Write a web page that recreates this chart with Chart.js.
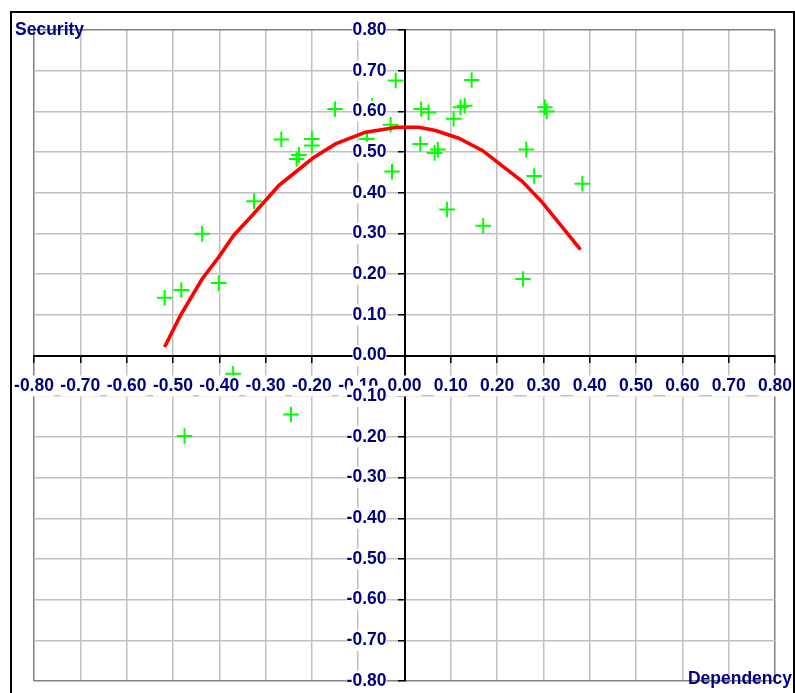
<!DOCTYPE html>
<html>
<head>
<meta charset="utf-8">
<script src="https://cdn.jsdelivr.net/npm/chart.js@4.4.0/dist/chart.umd.min.js"></script>
<style>
  html, body { margin: 0; padding: 0; background: #ffffff; }
  #wrap { position: relative; width: 795px; height: 693px; overflow: hidden; }
  canvas { position: absolute; left: 0; top: 0; }
</style>
</head>
<body>
<div id="wrap"><canvas id="c" width="795" height="693"></canvas></div>
<script>
// ---- data ----
const dependency = [-0.518, -0.482, -0.437, -0.401, -0.370, -0.475, -0.245, -0.325, -0.266, -0.233,
                    -0.228, -0.200, -0.200, -0.150, -0.070, -0.081, -0.030, -0.027, -0.019, 0.036,
                    0.052, 0.034, 0.065, 0.072, 0.106, 0.121, 0.130, 0.145, 0.092, 0.170,
                    0.263, 0.280, 0.303, 0.307, 0.384, 0.256];
const security   = [0.142, 0.161, 0.299, 0.178, -0.045, -0.198, -0.145, 0.379, 0.531, 0.483,
                    0.493, 0.532, 0.516, 0.606, 0.614, 0.532, 0.567, 0.452, 0.676, 0.606,
                    0.598, 0.520, 0.498, 0.506, 0.582, 0.610, 0.614, 0.677, 0.359, 0.319,
                    0.506, 0.441, 0.610, 0.600, 0.422, 0.188];
const curveX = [-0.518, -0.484, -0.437, -0.401, -0.369, -0.329, -0.271, -0.235, -0.196, -0.149,
                -0.084, -0.016, 0.031, 0.067, 0.117, 0.168, 0.254, 0.297, 0.380];
const curveY = [0.021, 0.098, 0.188, 0.242, 0.295, 0.344, 0.418, 0.451, 0.487, 0.520,
                0.549, 0.561, 0.561, 0.553, 0.534, 0.504, 0.428, 0.377, 0.260];
const axisMin = -0.8, axisMax = 0.8, axisStep = 0.1;
const xTitle = 'Dependency', yTitle = 'Security';

const navy = '#000080';
const tickFont = { family: '"Liberation Sans", Arial, sans-serif', size: 17.5, weight: 'bold' };
const fmt = v => Number(v).toFixed(2);
const gridCol = ctx => (Math.abs(Math.abs(ctx.tick.value) - 0.8) < 1e-9) ? '#808080' : '#c0c0c0';
const noPad = s => { s.paddingLeft = 0; s.paddingRight = 0; s.paddingTop = 0; s.paddingBottom = 0; };

const decor = {
  id: 'decor',
  beforeDraw(chart) {
    const c = chart.ctx;
    c.save();
    c.fillStyle = '#ffffff';
    c.fillRect(0, 0, chart.width, chart.height);
    c.strokeStyle = '#000000';
    c.lineWidth = 2;
    c.strokeRect(11, 12, 783, 720);
    c.restore();
  },
  afterDraw(chart) {
    const c = chart.ctx;
    const a = chart.chartArea;
    c.save();
    c.fillStyle = navy;
    c.font = 'bold 17.5px "Liberation Sans", Arial, sans-serif';
    c.textBaseline = 'middle';
    c.textAlign = 'left';
    c.fillText(yTitle, 15, a.top);
    c.textAlign = 'right';
    c.fillText(xTitle, 792, a.bottom - 2);
    c.restore();
  }
};

new Chart(document.getElementById('c'), {
  type: 'scatter',
  data: {
    datasets: [
      {
        label: 'fit',
        data: curveX.map((x, i) => ({ x, y: curveY[i] })),
        showLine: true,
        borderColor: '#ff0000',
        borderWidth: 3.6,
        pointRadius: 0,
        tension: 0,
        order: 0
      },
      {
        label: 'points',
        data: dependency.map((x, i) => ({ x, y: security[i] })),
        pointStyle: 'cross',
        pointRadius: 7.8,
        borderColor: '#00ff00',
        backgroundColor: '#00ff00',
        pointBorderWidth: 2,
        showLine: false,
        order: 1
      }
    ]
  },
  options: {
    responsive: false,
    animation: false,
    devicePixelRatio: 1,
    layout: { padding: { left: 34, top: 30, right: 20, bottom: 12 } },
    plugins: { legend: { display: false }, tooltip: { enabled: false }, title: { display: false } },
    scales: {
      x: {
        type: 'linear',
        min: axisMin, max: axisMax,
        position: 'center',
        afterFit: noPad,
        ticks: { stepSize: axisStep, color: navy, font: tickFont, callback: fmt, padding: 14, maxRotation: 0, autoSkip: false,
                 z: 1, showLabelBackdrop: true, backdropColor: '#ffffff', backdropPadding: 0 },
        grid: { color: gridCol, lineWidth: 1.5, tickColor: '#000000', tickLength: 6, drawTicks: true },
        border: { display: true, color: '#000000', width: 2 }
      },
      y: {
        type: 'linear',
        min: axisMin, max: axisMax,
        position: 'center',
        afterFit: noPad,
        ticks: { stepSize: axisStep, color: navy, font: tickFont, callback: fmt, padding: 12, autoSkip: false,
                 z: 1, showLabelBackdrop: true, backdropColor: '#ffffff', backdropPadding: 0 },
        grid: { color: gridCol, lineWidth: 1.5, tickColor: '#000000', tickLength: 6, drawTicks: true },
        border: { display: true, color: '#000000', width: 2 }
      }
    }
  },
  plugins: [decor]
});
</script>
</body>
</html>
